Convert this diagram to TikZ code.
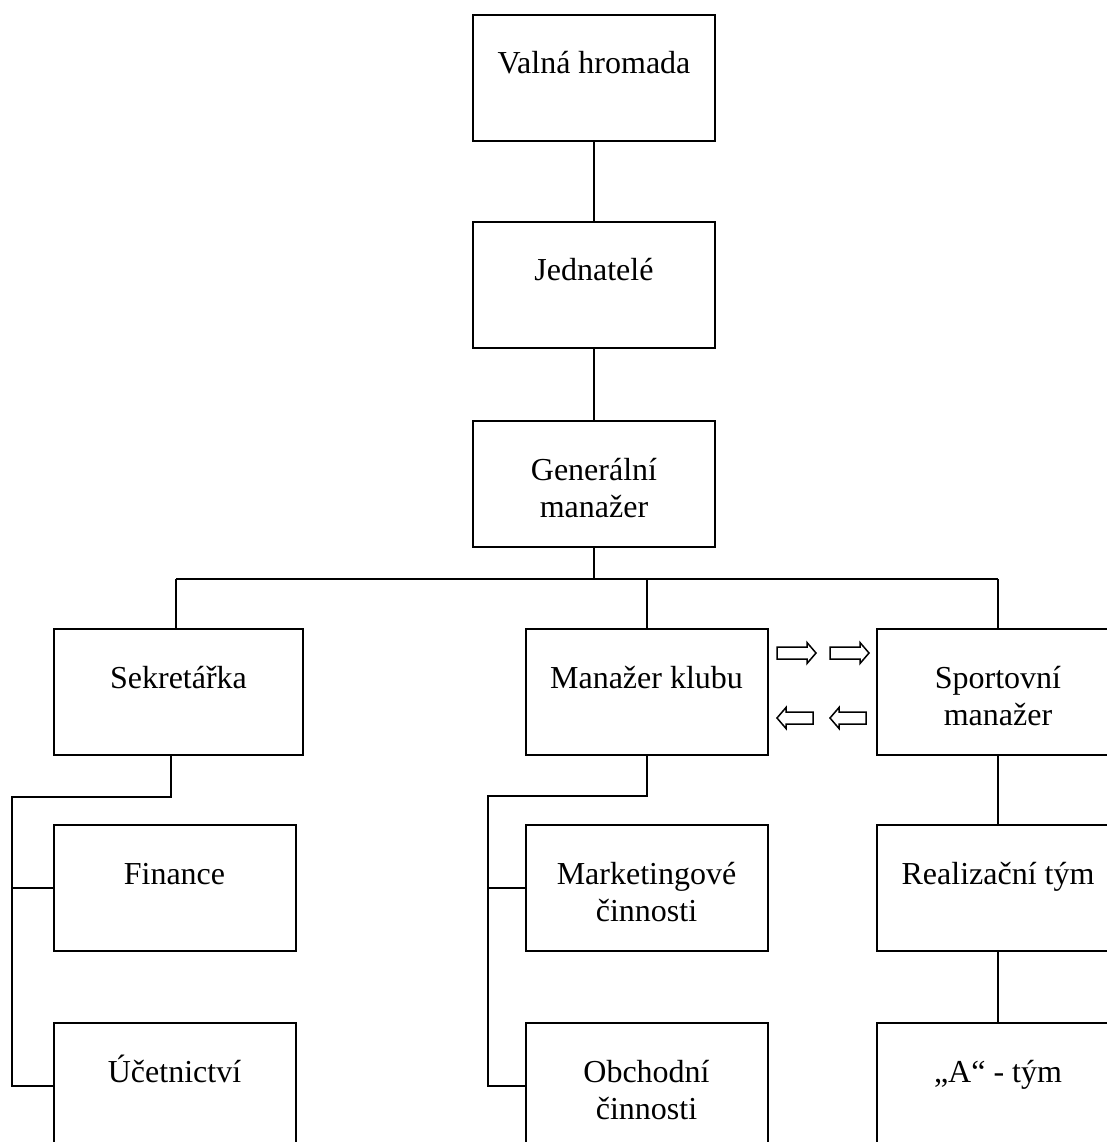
\documentclass[tikz,border=0pt]{standalone}
\usepackage{fontspec}
\setmainfont{Liberation Serif}
\newcommand\boxtext[1]{\parbox[c][120pt][t]{236pt}{\centering\rule{0pt}{56pt}#1}}
\tikzset{
  orgbox/.style={draw, line width=2pt, inner sep=0pt, minimum width=242pt, minimum height=126pt, font=\fontsize{32}{37}\selectfont},
  link/.style={line width=2pt},
  arrowline/.style={line width=1.5pt, line join=miter},
  rarr/.pic={\draw[arrowline] (0,-6) -- (30,-6) -- (30,-10.5) -- (39,0) -- (30,10.5) -- (30,6) -- (0,6) -- cycle;},
  larr/.pic={\draw[arrowline] (36,-6) -- (9,-6) -- (9,-10.5) -- (0,0) -- (9,10.5) -- (9,6) -- (36,6) -- cycle;}
}
\begin{document}
\begin{tikzpicture}[x=1pt,y=-1pt]
\useasboundingbox (0,0) rectangle (1107,1142);
\clip (0,0) rectangle (1107,1142);
% top chain
\node[orgbox] (vh) at (594,78) {\boxtext{Valná hromada}};
\node[orgbox] (jed) at (594,284.5) {\boxtext{Jednatelé}};
\node[orgbox] (gm) at (594,484) {\boxtext{Generální\\manažer}};
% second level
\node[orgbox, minimum width=249pt] (sek) at (178.5,692) {\boxtext{Sekretářka}};
\node[orgbox] (mk) at (646.5,692) {\boxtext{Manažer klubu}};
\node[orgbox] (sm) at (998,692) {\boxtext{Sportovní\\manažer}};
% third level
\node[orgbox] (fin) at (174.5,888) {\boxtext{Finance}};
\node[orgbox] (uc) at (174.5,1086) {\boxtext{Účetnictví}};
\node[orgbox] (mkt) at (646.5,888) {\boxtext{Marketingové\\činnosti}};
\node[orgbox] (obch) at (646.5,1086) {\boxtext{Obchodní\\činnosti}};
\node[orgbox] (real) at (998,888) {\boxtext{Realizační tým}};
\node[orgbox] (at) at (998,1086) {\boxtext{„A“ - tým}};
% connectors
\draw[link] (vh.south) -- (jed.north);
\draw[link] (jed.south) -- (gm.north);
\coordinate (busL) at (176,579);
\coordinate (busR) at (998,579);
\draw[link] (busL) -- (busR);
\draw[link] (gm.south) -- (gm.south |- busL);
\draw[link] (busL) -- (busL |- sek.north);
\draw[link] (mk.north |- busL) -- (mk.north);
\draw[link] (busR) -- (sm.north);
% left bracket
\coordinate (sekb) at (171,797);
\coordinate (lbar) at (12,797);
\draw[link] (sekb |- sek.south) -- (sekb) -- (lbar) |- (uc.west);
\draw[link] (lbar |- fin.west) -- (fin.west);
% middle bracket
\coordinate (mbar) at (488,796);
\draw[link] (mk.south) -- (mk.south |- mbar) -- (mbar) |- (obch.west);
\draw[link] (mbar |- mkt.west) -- (mkt.west);
% right column
\draw[link] (sm.south) -- (real.north);
\draw[link] (real.south) -- (at.north);
% block arrows between Manažer klubu and Sportovní manažer
\pic at (777,653) {rarr};
\pic at (830,653) {rarr};
\pic at (777,718) {larr};
\pic at (830,718) {larr};
\end{tikzpicture}
\end{document}
